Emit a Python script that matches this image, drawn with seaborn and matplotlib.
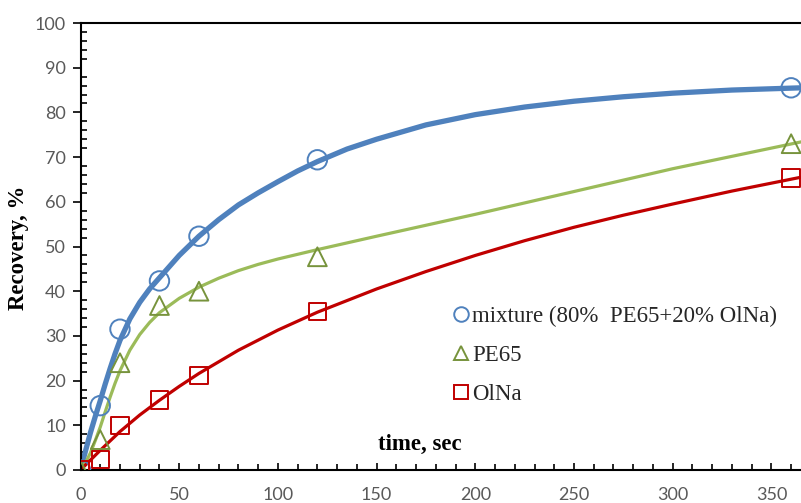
import matplotlib
matplotlib.use("Agg")
import matplotlib.pyplot as plt
import seaborn as sns
from matplotlib.lines import Line2D
from matplotlib.ticker import MultipleLocator

# measured points
time = [0, 10, 20, 40, 60, 120, 360]
mixture = [0, 14.4, 31.5, 42.3, 52.3, 69.4, 85.5]
pe65 = [0, 6.8, 24.0, 36.8, 40.0, 47.7, 73.0]
olna = [0, 2.3, 10.0, 15.7, 21.2, 35.4, 65.3]

# fitted curves
mixture_fit_time = [0, 2.5, 5, 7.5, 10, 12.5, 15, 17.5, 20, 25, 30, 35, 40, 50, 60, 70, 80,
                    90, 100, 110, 120, 135, 150, 175, 200, 225, 250, 275, 300, 330, 365]
mixture_fit = [0, 4.2, 8.3, 12.0, 15.5, 19.2, 22.7, 26.0, 29.0, 33.8, 37.5, 40.5, 43.0, 48.0,
               52.3, 56.0, 59.3, 62.0, 64.5, 66.9, 69.0, 71.8, 74.0, 77.2, 79.5, 81.2, 82.5,
               83.5, 84.3, 85.0, 85.5]
pe65_fit_time = [0, 2.5, 5, 7.5, 10, 12.5, 15, 17.5, 20, 25, 30, 35, 40, 50, 60, 70, 80, 90,
                 100, 120, 150, 200, 250, 300, 365]
pe65_fit = [0, 1.6, 3.8, 6.6, 9.6, 13.0, 16.3, 19.4, 22.2, 26.8, 30.3, 33.0, 35.2, 38.4, 40.9,
            42.9, 44.6, 46.0, 47.2, 49.3, 52.3, 57.2, 62.3, 67.4, 73.4]
olna_fit_time = [0, 10, 20, 30, 40, 50, 60, 80, 100, 120, 150, 175, 200, 225, 250, 275, 300,
                 330, 365]
olna_fit = [0, 4.4, 8.6, 12.3, 15.6, 18.7, 21.6, 26.8, 31.3, 35.3, 40.5, 44.4, 48.0, 51.3,
            54.3, 57.0, 59.5, 62.4, 65.5]

labels = ["mixture (80%  PE65+20% OlNa)", "PE65", "OlNa"]
x_ticks = [0, 50, 100, 150, 200, 250, 300, 350]
y_ticks = [0, 10, 20, 30, 40, 50, 60, 70, 80, 90, 100]

sns.set_theme(style="white")
plt.rcParams["font.family"] = ["Lato", "DejaVu Sans"]

BLUE = "#4F81BD"
GREEN_L = "#9BBB59"
GREEN_M = "#77933C"
RED = "#C00000"

fig = plt.figure(figsize=(8.01, 5.03), dpi=100)
ax = fig.add_axes([80.5 / 801, 33 / 503, (801 - 80.5) / 801, 447 / 503])

line_kw = dict(estimator=None, sort=False)
sns.lineplot(x=mixture_fit_time, y=mixture_fit, ax=ax, color=BLUE, linewidth=3.8, **line_kw)
sns.lineplot(x=pe65_fit_time, y=pe65_fit, ax=ax, color=GREEN_L, linewidth=2.3, **line_kw)
sns.lineplot(x=olna_fit_time, y=olna_fit, ax=ax, color=RED, linewidth=2.3, **line_kw)
for ln in ax.lines:
    ln.set_solid_joinstyle("round")
    ln.set_solid_capstyle("round")

sns.scatterplot(x=time, y=mixture, ax=ax, marker="o", s=14.0 ** 2,
                facecolor="none", edgecolor=BLUE, linewidth=1.4, zorder=5)
sns.scatterplot(x=time, y=pe65, ax=ax, marker="^", s=13.5 ** 2,
                facecolor="none", edgecolor=GREEN_M, linewidth=1.4, zorder=5)
sns.scatterplot(x=time, y=olna, ax=ax, marker="s", s=12.5 ** 2,
                facecolor="none", edgecolor=RED, linewidth=1.4, zorder=5)

ax.set_xlim(0, 365)
ax.set_ylim(0, 100)
ax.set_xticks(x_ticks)
ax.set_yticks(y_ticks)
ax.xaxis.set_minor_locator(MultipleLocator(10))
ax.yaxis.set_minor_locator(MultipleLocator(2))

for side in ["left", "bottom", "top"]:
    ax.spines[side].set_color("black")
    ax.spines[side].set_linewidth(1.5)
ax.spines["right"].set_visible(False)

ax.tick_params(axis="x", which="both", direction="in", length=4.5, width=1.2,
               color="black", bottom=True, top=False, pad=12,
               labelsize=13, labelcolor="#595959")
ax.tick_params(axis="x", which="major", length=5)
ax.tick_params(axis="y", which="major", direction="out", length=5.5, width=1.2,
               color="black", left=True, pad=5, labelsize=13, labelcolor="#595959")
ax.tick_params(axis="y", which="minor", direction="in", length=4, width=1.2,
               color="black", left=True)

ax.set_xlabel("time, sec", fontsize=16.5, fontweight="bold",
              family=["Liberation Serif"], color="black")
ax.xaxis.set_label_coords(0.471, 0.08)
ax.set_ylabel("Recovery, %", fontsize=16.5, fontweight="bold",
              family=["Liberation Serif"], color="black")
ax.yaxis.set_label_coords(-0.072, 0.498)

handles = [
    Line2D([], [], linestyle="none", marker="o", markersize=10.5,
           markerfacecolor="none", markeredgecolor=BLUE, markeredgewidth=1.4),
    Line2D([], [], linestyle="none", marker="^", markersize=10.5,
           markerfacecolor="none", markeredgecolor=GREEN_M, markeredgewidth=1.4),
    Line2D([], [], linestyle="none", marker="s", markersize=10,
           markerfacecolor="none", markeredgecolor=RED, markeredgewidth=1.4),
]
ax.legend(handles, labels, loc="center left", bbox_to_anchor=(0.512, 0.256),
          frameon=False, handlelength=1.0, handletextpad=0.0, borderpad=0,
          borderaxespad=0, labelspacing=0.78,
          prop={"family": "Liberation Serif", "size": 16.5})

fig.savefig("out.png", dpi=100)
